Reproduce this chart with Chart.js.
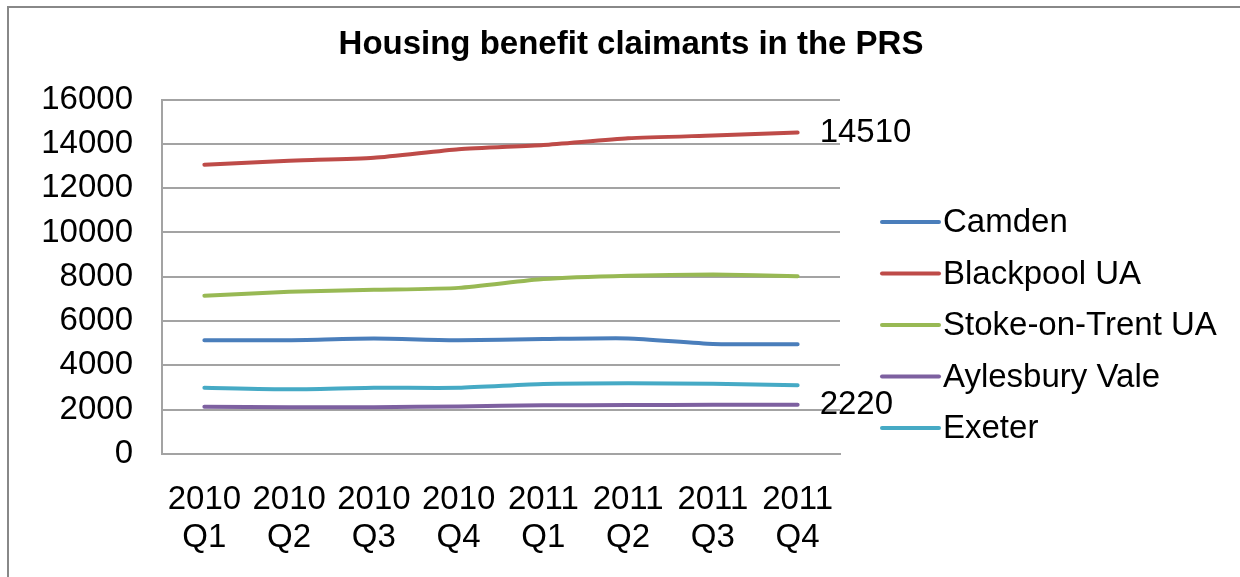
<!DOCTYPE html>
<html>
<head>
<meta charset="utf-8">
<title>Housing benefit claimants in the PRS</title>
<script src="https://cdn.jsdelivr.net/npm/chart.js@4/dist/chart.umd.min.js"></script>
<style>
  html, body { margin: 0; padding: 0; background: #fff; }
  canvas { display: block; }
</style>
</head>
<body>
<canvas id="hbChart" width="1240" height="577"></canvas>
<script>
'use strict';
const quarters = [['2010','Q1'],['2010','Q2'],['2010','Q3'],['2010','Q4'],['2011','Q1'],['2011','Q2'],['2011','Q3'],['2011','Q4']];
const camden    = [5140, 5140, 5210, 5140, 5190, 5220, 4970, 4950];
const blackpool = [13060, 13240, 13370, 13760, 13950, 14250, 14380, 14510];
const stoke     = [7150, 7320, 7410, 7500, 7900, 8050, 8100, 8030];
const aylesbury = [2130, 2110, 2110, 2150, 2200, 2210, 2220, 2220];
const exeter    = [2990, 2920, 2990, 2990, 3160, 3190, 3170, 3100];
const yTicks = [0, 2000, 4000, 6000, 8000, 10000, 12000, 14000, 16000];

const FONT = '"Liberation Sans", Arial, sans-serif';
const TXT = 33;
const GRID = '#a3a3a3';

const series = [
  { label:'Camden', data:camden, color:'#4a7ebb' },
  { label:'Blackpool UA', data:blackpool, color:'#be4b48', endLabel:true },
  { label:'Stoke-on-Trent UA', data:stoke, color:'#98b954' },
  { label:'Aylesbury Vale', data:aylesbury, color:'#7d60a0', endLabel:true },
  { label:'Exeter', data:exeter, color:'#46aac5' },
];

// outer frame of the chart object (left and top edges are visible)
const framePlugin = {
  id:'frame',
  beforeDraw(chart) {
    const c = chart.ctx;
    c.save();
    c.strokeStyle = '#888'; c.lineWidth = 2;
    c.beginPath(); c.moveTo(8, 577); c.lineTo(8, 7); c.lineTo(1240, 7); c.stroke();
    c.restore();
  }
};

// value labels at the last point of the flagged series
const endLabelPlugin = {
  id:'endLabels',
  afterDatasetsDraw(chart) {
    const c = chart.ctx;
    c.save();
    c.font = TXT + 'px ' + FONT; c.fillStyle = '#000';
    c.textAlign = 'left'; c.textBaseline = 'middle';
    chart.data.datasets.forEach((ds, i) => {
      if (!series[i].endLabel) return;
      const pts = chart.getDatasetMeta(i).data;
      const last = pts[pts.length - 1];
      c.fillText(String(ds.data[ds.data.length - 1]), last.x + 22, last.y);
    });
    c.restore();
  }
};

// legend column to the right of the plot
const legendPlugin = {
  id:'sideLegend',
  afterDraw(chart) {
    const c = chart.ctx, a = chart.chartArea;
    const x0 = a.right + 42, top = 222, step = 51.5;
    c.save();
    c.font = TXT + 'px ' + FONT; c.textBaseline = 'middle'; c.textAlign = 'left';
    chart.data.datasets.forEach((ds, i) => {
      const y = top + i * step;
      c.strokeStyle = ds.borderColor; c.lineWidth = 4; c.lineCap = 'round';
      c.beginPath(); c.moveTo(x0, y); c.lineTo(x0 + 57, y); c.stroke();
      c.fillStyle = '#000';
      c.fillText(ds.label, x0 + 61, y + 1);
    });
    c.restore();
  }
};

new Chart(document.getElementById('hbChart'), {
  type:'line',
  data:{
    labels: quarters,
    datasets: series.map(s => ({
      label:s.label, data:s.data,
      borderColor:s.color, backgroundColor:s.color,
      borderWidth:4, borderCapStyle:'round', borderJoinStyle:'round',
      pointRadius:0, pointHoverRadius:0, tension:0.2, fill:false
    }))
  },
  options:{
    responsive:false, animation:false, devicePixelRatio:1,
    layout:{ padding:{ left:22, top:0, right:0, bottom:0 } },
    plugins:{
      legend:{ display:false },
      tooltip:{ enabled:false },
      title:{
        display:true, text:'Housing benefit claimants in the PRS', color:'#000',
        font:{ family:FONT, size:33, weight:'bold', lineHeight:1.2 },
        padding:{ top:25, bottom:35 }
      }
    },
    scales:{
      x:{
        offset:true,
        grid:{ display:false, drawTicks:false },
        border:{ display:true, color:GRID, width:2 },
        ticks:{ color:'#000', padding:27, maxRotation:0, autoSkip:false,
                font:{ family:FONT, size:TXT, lineHeight:1.15 } },
        afterFit(scale) { scale.height = 123; }
      },
      y:{
        min:0, max:16000,
        afterBuildTicks(scale) { scale.ticks = yTicks.map(v => ({ value:v })); },
        grid:{ color:GRID, lineWidth:2, drawTicks:false },
        border:{ display:true, color:GRID, width:2 },
        ticks:{ color:'#000', padding:29, font:{ family:FONT, size:TXT },
                callback:v => String(v) },
        afterFit(scale) { scale.width = 140; }
      },
      // empty band on the right that holds the legend and end labels
      side:{
        position:'right', display:true,
        grid:{ display:false, drawTicks:false },
        border:{ display:false },
        ticks:{ display:false },
        afterFit(scale) { scale.width = 400; }
      }
    }
  },
  plugins:[framePlugin, endLabelPlugin, legendPlugin]
});
</script>
</body>
</html>
